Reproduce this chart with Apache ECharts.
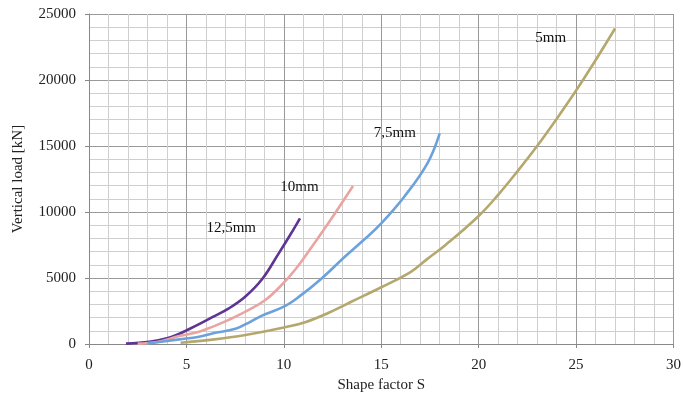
<!DOCTYPE html>
<html><head><meta charset="utf-8">
<script src="https://cdn.jsdelivr.net/npm/echarts@6/dist/echarts.min.js"></script>
<style>html,body{margin:0;padding:0;background:#fff}#c{width:684px;height:400px}</style>
</head><body><div id="c"></div>
<script>
// Series data: [shape factor S, vertical load kN]
const s125 = [[1.9,30],[3.1,170],[4.0,430],[4.64,780],[5.0,1030],[5.65,1500],[6.33,2030],[7.18,2700],[8.03,3600],[8.88,4900],[9.73,6850],[10.3,8200],[10.83,9520]];
const s10 = [[2.5,30],[3.5,150],[4.64,600],[5.65,930],[6.33,1300],[7.2,1850],[8.03,2450],[9.05,3330],[10.0,4650],[10.75,5950],[11.43,7350],[12.28,9140],[13.55,11970]];
const s75 = [[3.0,40],[4.64,350],[5.65,550],[6.33,800],[7.52,1150],[8.3,1700],[8.88,2150],[10.0,2830],[10.75,3550],[11.94,4970],[13.13,6610],[14.14,7930],[15.0,9140],[16.18,11160],[17.37,13690],[18.0,15960]];
const s5 = [[4.7,100],[6.33,330],[8.03,680],[10.0,1250],[11.1,1650],[12.28,2350],[13.46,3200],[15.0,4300],[16.5,5450],[17.37,6450],[18.3,7500],[20.0,9700],[21.0,11300],[22.0,13100],[23.0,15000],[24.0,17050],[25.0,19200],[26.0,21500],[27.0,23900]];
const seriesNames = ['12,5mm','10mm','7,5mm','5mm'];
const labelPos = [[7.3,8800],[10.8,11900],[15.7,16000],[23.7,23200]];
const xTicks = [0,5,10,15,20,25,30];
const yTicks = [0,5000,10000,15000,20000,25000];

const colors = ['#5E3494','#E8A5A2','#6CA2DC','#B5A86E'];
const allData = [s125, s10, s75, s5];
const serif = 'Liberation Serif';

const chart = echarts.init(document.getElementById('c'));
chart.setOption({
  animation:false,
  grid:{left:89,right:6,top:14,bottom:56,containLabel:false},
  xAxis:{type:'value',min:xTicks[0],max:xTicks[xTicks.length-1],interval:5,
    name:'Shape factor S',nameLocation:'middle',nameGap:32,
    nameTextStyle:{fontFamily:serif,fontSize:15,color:'#222'},
    axisLine:{show:true,lineStyle:{color:'#888',width:1}},
    axisTick:{show:true,length:4,lineStyle:{color:'#888'}},
    axisLabel:{fontFamily:serif,fontSize:15,color:'#222',margin:14,formatter:v=>String(v)},
    splitLine:{show:true,lineStyle:{color:'#999',width:1}},
    minorTick:{show:false,splitNumber:5},
    minorSplitLine:{show:true,lineStyle:{color:'#cfcfcf',width:1}}
  },
  yAxis:{type:'value',min:yTicks[0],max:yTicks[yTicks.length-1],interval:5000,
    name:'Vertical load [kN]',nameLocation:'middle',nameGap:63,
    nameTextStyle:{fontFamily:serif,fontSize:15,color:'#222'},
    axisLine:{show:true,lineStyle:{color:'#888',width:1}},
    axisTick:{show:true,length:4,lineStyle:{color:'#888'}},
    axisLabel:{fontFamily:serif,fontSize:15,color:'#222',margin:13,formatter:v=>String(v)},
    splitLine:{show:true,lineStyle:{color:'#999',width:1}},
    minorTick:{show:false,splitNumber:5},
    minorSplitLine:{show:true,lineStyle:{color:'#cfcfcf',width:1}}
  },
  series: allData.map((d,i)=>({
    type:'line',name:seriesNames[i],data:d,smooth:0.4,symbol:'none',
    lineStyle:{color:colors[i],width:2.6},
    markPoint:{symbol:'circle',symbolSize:0,silent:true,
      label:{show:true,position:'inside',formatter:seriesNames[i],fontFamily:serif,fontSize:15,color:'#111'},
      data:[{coord:labelPos[i]}]}
  }))
});
</script></body></html>
